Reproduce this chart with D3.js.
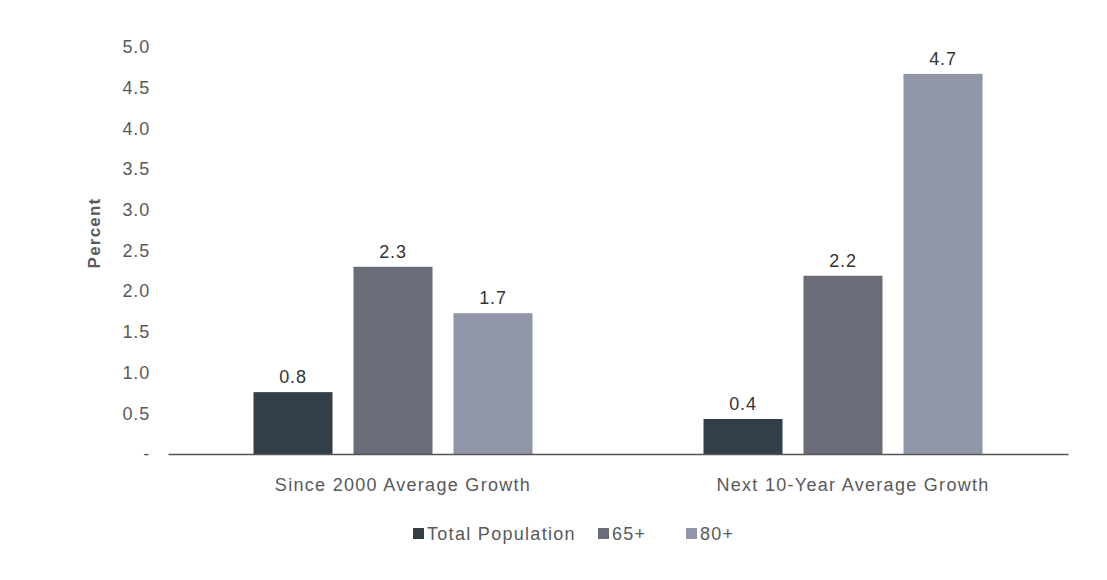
<!DOCTYPE html>
<html><head><meta charset="utf-8">
<script src="https://cdn.jsdelivr.net/npm/d3@7"></script>
<style>body{margin:0;background:#fff}text{font-family:"Liberation Sans",Arial,Helvetica,sans-serif}</style>
</head><body><svg id="c" width="1107" height="580"></svg>
<script>
const categories = ["Since 2000 Average Growth", "Next 10-Year Average Growth"];
const seriesNames = ["Total Population", "65+", "80+"];
const totalPopulation = [0.76, 0.43];
const age65 = [2.30, 2.19];
const age80 = [1.73, 4.67];
const yTicks = [0, 0.5, 1.0, 1.5, 2.0, 2.5, 3.0, 3.5, 4.0, 4.5, 5.0];
const colors = ["#333f48", "#6a6d77", "#9096a8"];

const series = [totalPopulation, age65, age80];
const svg = d3.select("#c");
const m = {l:168, r:1068, t:47, b:454};
const LS = "1.3px";
const x = d3.scaleBand().domain(categories).range([m.l, m.r]);
const y = d3.scaleLinear().domain([0, 5]).range([m.b, m.t]);
const xs = d3.scaleBand().domain(seriesNames).range([0, 279]).paddingInner(0.21);

// y labels
const ya = svg.append("g").attr("transform", `translate(150,0)`)
  .call(d3.axisLeft(y).tickValues(yTicks).tickSize(0).tickPadding(0).tickFormat(d => d === 0 ? "-" : d3.format(".1f")(d)));
ya.select(".domain").remove();
ya.selectAll("text").attr("font-size", 18).attr("fill", "#595959").style("letter-spacing", "0.8px")
  .attr("font-family", "Liberation Sans, Arial, sans-serif");

svg.append("text").attr("transform", `translate(100,233) rotate(-90)`).attr("text-anchor","middle")
  .attr("font-size", 17).attr("font-weight","bold").attr("fill","#595959").style("letter-spacing","1.2px").text("Percent");

const g = svg.append("g");
categories.forEach((c, ci) => {
  const gx = x(c) + x.bandwidth()/2 - 139.5;
  seriesNames.forEach((s, si) => {
    const v = series[si][ci];
    const bx = gx + xs(s);
    g.append("rect").attr("x", bx).attr("width", xs.bandwidth()).attr("y", y(v)).attr("height", y(0)-y(v)).attr("fill", colors[si]);
    g.append("text").attr("x", bx + xs.bandwidth()/2).attr("y", y(v) - 9).attr("text-anchor","middle")
      .attr("font-size", 18).attr("fill","#333").style("letter-spacing","0.8px").text(d3.format(".1f")(v));
  });
});

// x axis
const xa = svg.append("g").attr("transform", `translate(0,${m.b})`).call(d3.axisBottom(x).tickSize(0).tickPadding(0));
xa.select(".domain").attr("stroke","#555").attr("stroke-width",1.3);
xa.selectAll("text").attr("font-size", 18).attr("fill","#595959").attr("dy", 0).attr("y", 37).attr("dx", 10)
  .style("letter-spacing", LS).attr("font-family", "Liberation Sans, Arial, sans-serif");

// legend
const legendX = [413, 598, 686];
const lg = svg.append("g");
seriesNames.forEach((s, i) => {
  lg.append("rect").attr("x", legendX[i]).attr("y", 528).attr("width", 11).attr("height", 11).attr("fill", colors[i]);
  lg.append("text").attr("x", legendX[i] + 14).attr("y", 540).attr("font-size", 18).attr("fill","#595959")
    .style("letter-spacing", LS).text(s);
});
</script></body></html>
